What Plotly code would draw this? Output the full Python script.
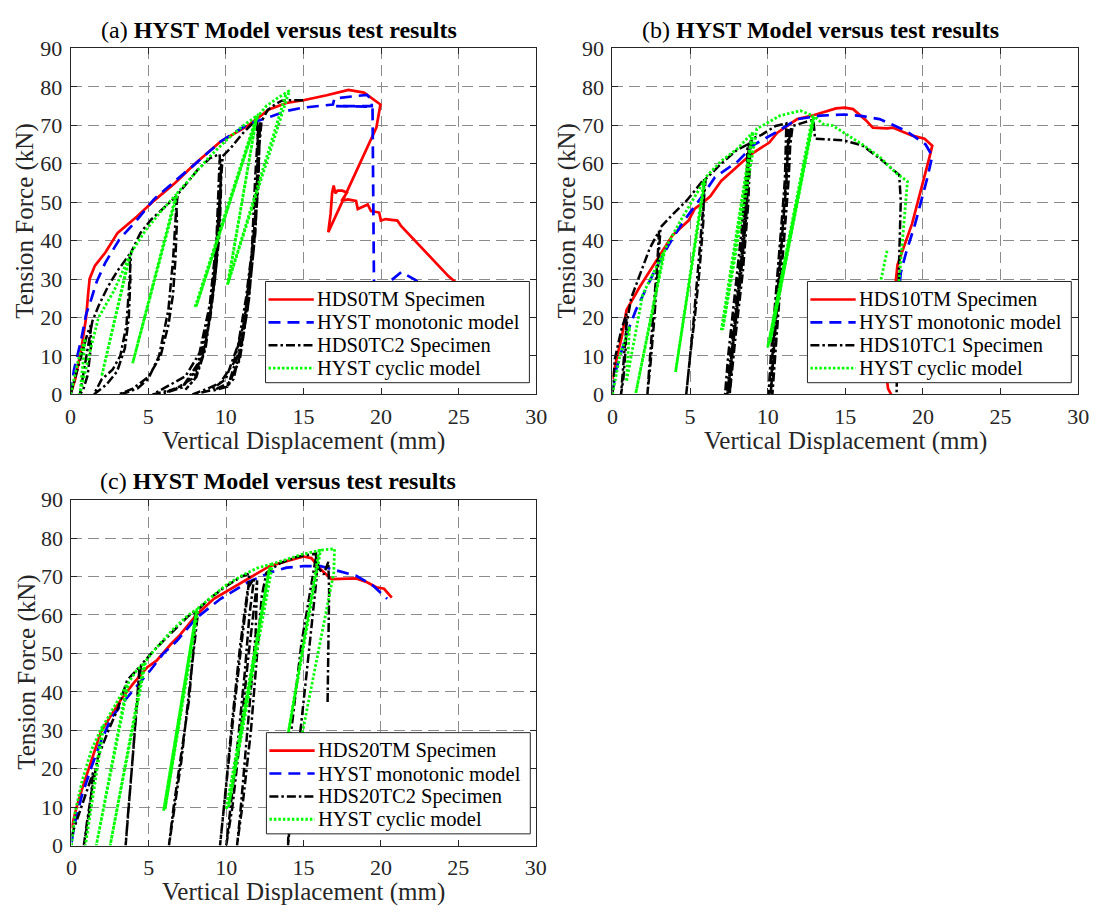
import plotly.graph_objects as go

W, H = 1102, 924

# ---------------- Panel (a) ----------------
a_tm_x = [0, 0.3, 0.7, 1.0, 1.15, 1.23, 1.57, 2.24, 3.03, 4.26, 5.38, 6.73, 7.96, 9.64, 11.43, 12.78, 13.9, 15.0, 16.5,
          17.9, 18.9, 19.96, 19.7, 16.6, 16.75, 16.85, 16.95, 17.05, 17.2, 17.5, 17.8, 17.45, 17.86, 18.39, 18.5, 19.14,
          19.35, 19.88, 19.99, 20.3, 21.05, 21.27, 24.35, 25.0]
a_tm_y = [0, 4, 12, 20, 27, 30.1, 33.5, 36.9, 42, 46.2, 50.4, 55, 59.8, 65.7, 69.9, 74.1, 75.8, 76.5, 77.8,
          79.2, 78.5, 75.4, 69.4, 42.2, 47, 52.5, 54.3, 52.3, 53, 53, 52.5, 50.3, 50.7, 50.3, 48.2, 49.4,
          47.7, 47.3, 45.2, 45.6, 45.2, 43.9, 30.7, 28.5]

a_mono_x = [0, 0.22, 0.67, 1.0, 1.35, 1.68, 2.24, 3.14, 4.26, 5.38, 6.73, 7.96, 9.64, 11.43, 13.0, 13.9, 15.0, 16.9,
            17.0, 19.1, 19.4, 19.4, 17.1, 19.45, 19.5, 19.55, 21.3, 22.2, 25.0]
a_mono_y = [0, 6.4, 14, 20.8, 25, 29.3, 34.3, 40.3, 45.3, 50.8, 55.5, 59.7, 65.7, 70.3, 72.4, 73.7, 74.6, 75.4,
            77, 77.9, 76.5, 75.0, 75.0, 74.8, 50, 26, 31.8, 29.8, 20]

a_tc_x = [0, 0.4, 0.8, 1.1, 1.3, 1.3, 1.1, 0.8, 0.6, 0.8, 1.1, 1.4, 1.8, 2.4, 3.0, 3.5, 3.8,
          3.85, 3.75, 3.5, 3.0, 2.3, 1.7, 1.5, 2.0, 2.7, 3.2, 3.6, 3.8, 3.9,
          4.5, 5.2, 6.0, 6.8, 6.85, 6.75, 6.6, 6.3, 5.8, 5.0, 4.0, 3.1,
          3.6, 4.3, 5.0, 5.7, 6.3, 6.6, 6.8, 6.9, 7.5, 8.2, 9.0, 9.6,
          9.7, 9.6, 9.3, 9.0, 8.5, 7.8, 6.8, 5.3, 6.28, 7.4, 8.3, 8.97, 9.4, 9.6,
          9.5, 9.2, 8.8, 8.2, 7.3, 6.0, 7.2, 8.2, 8.9, 9.3, 9.55, 9.7,
          9.6, 9.35, 9.0, 8.6, 8.0, 7.4, 8.1, 8.7, 9.15, 9.45, 9.65, 9.8,
          10.3, 11.0, 11.6, 12.0, 12.1, 12.0, 11.7, 11.3, 10.8, 10.0, 9.0, 7.85,
          8.74, 9.64, 10.5, 11.2, 11.66, 11.9, 12.1,
          12.0, 11.8, 11.4, 10.9, 10.2, 9.2, 10.1, 10.8, 11.4, 11.8, 12.1, 12.2,
          12.1, 11.9, 11.5, 11.0, 10.5, 10.1, 10.9, 11.5, 11.9, 12.1, 12.3,
          12.7, 13.2, 13.6, 14.0, 15.0]
a_tc_y = [0, 6, 12, 16, 18, 12, 5, 1, 0, 5, 12, 19, 23, 28, 32, 35, 36.5,
          30, 20, 12, 6, 2.5, 0.6, 0, 3.9, 6.4, 10, 18, 30, 37,
          42, 45.5, 48.5, 51.5, 45, 35, 26, 18, 10, 4.5, 1.5, 0,
          0.5, 1.5, 4, 10, 22, 35, 48, 52, 55, 58.5, 61.5, 62.5,
          55, 42, 30, 20, 10, 4, 1.5, 0, 2.2, 4.7, 10.7, 23.4, 40.3, 61,
          45, 30, 18, 8, 2.5, 0.3, 1.8, 7, 18, 32, 48, 60,
          46, 32, 21, 11, 4, 1.2, 4.5, 12, 26, 42, 55, 62,
          64, 67.5, 70, 71.5, 62, 50, 38, 25, 13, 4, 1, 0,
          1.35, 3.0, 8.1, 19.1, 36, 57, 70,
          55, 40, 25, 12, 3, 1, 2, 8, 22, 38, 55, 71,
          58, 42, 26, 13, 4, 2.2, 9, 25, 45, 62, 71,
          74, 75.5, 76.4, 76.5, 76.5]

a_cyc_x = [0, 0.5, 0.95, 0.6, 1.3, 1.8, 2.8, 3.75, 2.0, 3.85, 4.8, 5.8, 6.8, 4.0, 6.9, 8.0, 9.0, 10.0, 11.0,
           12.0, 8.0, 12.1, 8.1, 12.0, 12.6, 13.3, 14.1, 10.1, 12.0, 10.15, 13.9]
a_cyc_y = [0, 9, 14.5, 0, 12, 20, 27, 35.5, 4.7, 36.5, 42.5, 47.5, 52, 8.1, 52.5, 57.5, 62, 66, 69.5,
           72.5, 22.5, 73, 23, 72, 75, 77, 79, 28.4, 72.5, 29, 78.5]

# ---------------- Panel (b) ----------------
b_tm_x = [0, 0.3, 0.6, 0.9, 1.73, 2.8, 3.85, 4.9, 5.3, 5.7, 6.3, 7.0, 8.1, 8.9, 10.1, 10.6, 11.9, 12.94, 14.4, 14.96,
          15.5, 16.3, 16.77, 17.7, 18.04, 19.32, 20.1, 20.6, 20.4, 19.3, 18.36, 18.0, 17.8, 17.7, 17.75, 17.95]
b_tm_y = [4, 10, 15, 21.9, 27.8, 34.5, 41.3, 45.2, 48.3, 49.5, 51.5, 55.5, 59.5, 62.4, 65.5, 68, 71.6, 72.6, 74.4, 74.6,
          74.2, 71.4, 69.4, 69.2, 69.4, 67.3, 66.5, 64.7, 61.4, 44.4, 33.7, 20, 8, 3.2, 1.5, 0]

b_mono_x = [0, 0.25, 0.9, 1.5, 2.8, 3.6, 4.5, 5.75, 6.6, 8.1, 9.1, 10.6, 11.9, 13.4, 14.96, 16.1, 17.2, 18.9, 20.17,
            20.6, 20.28, 19.5, 18.9, 18.57, 18.3]
b_mono_y = [0.8, 6.7, 15.5, 21.9, 32.8, 38.7, 44.6, 51.4, 56.5, 60.7, 64.9, 68.3, 71.6, 72.5, 72.8, 72.4, 71.6, 68.6, 65,
            62, 56.3, 44.4, 36.7, 31.6, 20]

b_tc_x = [0, 0.15, 0.57, 0.9, 0.85, 0.7, 0.55, 0.7, 0.9, 1.2, 1.75, 2.4, 3.0,
          2.9, 2.7, 2.5, 2.35, 2.25, 2.45, 2.7, 2.95, 3.1, 3.8, 4.8, 5.9,
          5.85, 5.6, 5.3, 5.0, 4.8, 4.75, 4.9, 5.2, 5.5, 5.8, 6.0, 7.0, 8.0, 8.7,
          8.6, 8.3, 7.9, 7.6, 7.4, 7.6, 8.0, 8.4, 8.7, 8.8,
          8.65, 8.25, 7.8, 7.5, 7.25, 7.45, 7.85, 8.3, 8.65, 8.9,
          8.75, 8.4, 7.95, 7.65, 7.55, 7.75, 8.15, 8.55, 8.8, 9.0,
          9.6, 10.5, 11.2, 11.1, 10.8, 10.5, 10.2, 10.05, 10.25, 10.6, 10.9, 11.2, 11.35,
          11.2, 10.9, 10.6, 10.3, 10.2, 10.4, 10.75, 11.05, 11.3, 11.5,
          11.35, 11.05, 10.7, 10.4, 10.3, 10.5, 10.85, 11.15, 11.4, 11.6,
          12.3, 12.94, 13.05, 14.85, 16.07, 17.2, 18.47, 18.57, 18.43, 18.3]
b_tc_y = [0, 9.2, 16.8, 21, 12, 4, 0, 8, 18, 25, 31, 38, 42.5,
          35, 25, 15, 6, 0, 8, 20, 35, 43.5, 46.5, 50.5, 56,
          45, 32, 20, 10, 3, 0, 6, 18, 32, 45, 56, 60, 63.5, 65,
          50, 35, 20, 8, 0, 10, 25, 42, 60, 65.5,
          48, 30, 14, 3, 0, 10, 25, 42, 58, 66,
          50, 32, 16, 4, 0, 12, 28, 46, 62, 66.5,
          67.5, 69.8, 70.5, 55, 40, 25, 10, 0, 10, 28, 45, 62, 69,
          55, 40, 25, 10, 0, 12, 30, 48, 64, 69.5,
          56, 40, 24, 9, 0, 11, 29, 47, 63, 69.8,
          70.7, 71.4, 66.5, 66.1, 64.8, 61.4, 57.1, 50.3, 29.9, 0]

b_cyc_x = [0, 0.47, 1.1, 0.9, 1.95, 2.8, 3.3, 1.5, 3.4, 4.5, 5.9, 4.06, 6.0, 7.0, 8.1, 9.0,
           7.0, 9.05, 7.1, 9.3, 10.8, 12.1, 12.9, 10.0, 12.95, 10.15, 13.0,
           13.58, 14.2, 15.2, 16.1, 17.2, 18.26, 19.0, 18.47, 18.3, 17.0, 17.3, 17.7]
b_cyc_y = [0, 10, 17.6, 3.3, 26, 33, 37, 0.3, 38, 46, 55.5, 5.8, 56.5, 60.7, 64.1, 68,
           16.4, 68.3, 16.8, 69.1, 72.5, 73.8, 72.5, 12.2, 72, 13.5, 72.3,
           70.3, 69.9, 67.3, 65, 61.8, 57.6, 55.4, 29.9, 15, 10, 29.9, 37.6]

# ---------------- Panel (c) ----------------
c_tm_x = [0, 0.3, 0.65, 1.28, 1.9, 2.55, 3.2, 4.0, 4.9, 5.5, 6.4, 6.95, 8.07, 9.2, 10.3, 11.4, 12.8, 13.9, 15.0, 15.5,
          16.1, 16.8, 17.7, 18.4, 19.1, 19.7, 20.2, 20.6, 20.7]
c_tm_y = [4.5, 9.5, 14.3, 21.9, 29.5, 33.8, 38, 42.2, 46.4, 48.1, 52.3, 54.5, 60, 64.2, 66.8, 69.3, 72.7, 74, 75.2, 74.8,
          71.9, 69.3, 69.5, 69.5, 68.5, 67.2, 66.8, 65.1, 64.5]

c_mono_x = [0, 0.22, 0.65, 1.28, 1.9, 2.55, 3.3, 4.0, 5.1, 5.9, 6.8, 8.07, 9.64, 11.4, 12.8, 13.9, 15.0, 16.1, 17.3,
            18.4, 19.5, 20.4]
c_mono_y = [0.8, 5.9, 12.7, 20.3, 27, 33, 37.1, 40.5, 45.6, 49.8, 53.2, 59.2, 64.2, 68.5, 71, 72.3, 72.7, 72.7, 71.4,
            70.2, 67.6, 64.2]

c_tc_x = [0, 0.43, 1.07, 1.4, 1.2, 0.95, 0.8, 1.0, 1.3, 1.7, 2.34, 2.98, 3.6, 4.4,
          4.2, 3.9, 3.65, 3.5, 3.7, 4.0, 4.3, 4.5, 5.5, 6.5, 7.5, 8.0,
          7.9, 7.6, 7.1, 6.6, 6.3, 6.6, 7.1, 7.6, 8.0, 8.2, 9.0, 10.0, 11.0, 11.5,
          11.4, 11.0, 10.5, 10.0, 9.6, 9.9, 10.4, 10.9, 11.4, 11.8,
          11.5, 11.2, 10.7, 10.2, 10.0, 10.4, 10.9, 11.4, 11.8, 12.0,
          11.9, 11.6, 11.2, 10.9, 10.7, 11.1, 11.6, 12.0, 12.3, 12.6,
          13.5, 14.5, 15.5, 15.8, 15.85, 15.6, 15.2, 14.8, 14.3, 14.0,
          14.1, 14.85, 15.5, 15.8, 16.0, 16.3, 16.6, 16.65, 16.55]
c_tc_y = [2.5, 7.6, 15.2, 19, 10, 3, 0, 6, 14, 22.8, 29.5, 35.4, 43, 46.5,
          35, 20, 8, 0, 10, 25, 40, 47, 51.5, 55.5, 59.5, 61,
          52, 38, 24, 10, 0, 8, 22, 40, 55, 61.5, 64.5, 67.5, 70, 70.8,
          66, 53, 35, 15, 0, 12, 33, 52, 67, 69.5,
          60, 45, 25, 8, 0, 10, 28, 48, 62, 69,
          55, 40, 22, 8, 0, 12, 30, 50, 65, 71,
          73.5, 75, 75.8, 76, 70, 60, 45, 30, 15, 0,
          26.2, 52.3, 67.5, 75.1, 72, 70.5, 73.8, 66, 37]

c_cyc_x = [0, 0.25, 0.7, 1.3, 2.0, 0.9, 2.1, 2.8, 3.6, 1.6, 3.7, 4.2, 4.7, 2.5, 4.8, 5.5, 6.5, 7.5, 8.1,
           5.95, 8.1, 6.05, 8.2, 9.0, 10.0, 11.0, 12.0, 12.9, 10.0, 12.8, 10.15, 13.0,
           14.0, 15.0, 16.1, 13.9, 13.7, 16.0, 17.0, 16.95, 14.85, 14.6]
c_cyc_y = [0, 9, 17, 25, 31, 0, 31.5, 36.5, 42, 0, 42.5, 45.5, 47.5, 0, 48, 51.5, 56, 59.8, 61.5,
           9, 61.5, 9.5, 61.8, 64.5, 67.8, 70.2, 72.2, 73.2, 9.3, 72.3, 10, 73.3,
           74.7, 75.9, 76.8, 27, 22, 76.8, 77.2, 71, 27.8, 20]

# ---------------- labels ----------------
panel_titles = ["(a) ", "(b) ", "(c) "]
title_bold = "HYST Model versus test results"
legend_names = [
    ["HDS0TM Specimen", "HYST monotonic model", "HDS0TC2 Specimen", "HYST cyclic model"],
    ["HDS10TM Specimen", "HYST monotonic model", "HDS10TC1 Specimen", "HYST cyclic model"],
    ["HDS20TM Specimen", "HYST monotonic model", "HDS20TC2 Specimen", "HYST cyclic model"],
]
x_title = "Vertical Displacement (mm)"
y_title = "Tension Force (kN)"
x_ticks = [0, 5, 10, 15, 20, 25, 30]
y_ticks = [0, 10, 20, 30, 40, 50, 60, 70, 80, 90]

series = [
    [(a_tm_x, a_tm_y), (a_mono_x, a_mono_y), (a_tc_x, a_tc_y), (a_cyc_x, a_cyc_y)],
    [(b_tm_x, b_tm_y), (b_mono_x, b_mono_y), (b_tc_x, b_tc_y), (b_cyc_x, b_cyc_y)],
    [(c_tm_x, c_tm_y), (c_mono_x, c_mono_y), (c_tc_x, c_tc_y), (c_cyc_x, c_cyc_y)],
]

styles = [
    dict(color="#ff0000", width=2.7, dash="solid"),
    dict(color="#0000ff", width=2.7, dash="12px,7px"),
    dict(color="#000000", width=2.5, dash="9px,3px,2.5px,3px"),
    dict(color="#00ff00", width=2.8, dash="2.5px,2px"),
]

# pixel geometry of the panels: (left, right, top, bottom)
boxes = [(65.6, 538.6, 37.4, 393.0), (616.0, 1089.0, 37.4, 393.0), (66.5, 538.0, 501.2, 856.7)]
title_pos = [(277, 19), (827, 19), (276, 482)]

FONT = "Liberation Serif"
INK = "#262626"

fig = go.Figure()
for p in range(3):
    xa = "x" if p == 0 else f"x{p+1}"
    ya = "y" if p == 0 else f"y{p+1}"
    for s in range(4):
        xs, ys = series[p][s]
        fig.add_trace(go.Scatter(
            x=xs, y=ys, mode="lines", name=legend_names[p][s],
            line=styles[s], xaxis=xa, yaxis=ya,
            showlegend=False, hoverinfo="skip"))

axis_common = dict(
    showline=True, linecolor=INK, linewidth=1, mirror="ticks",
    ticks="inside", ticklen=6, tickwidth=1, tickcolor=INK,
    showgrid=True, gridcolor="#8c8c8c", gridwidth=1, griddash="11px,6px",
    zeroline=False, tickfont=dict(family=FONT, size=22, color=INK),
    fixedrange=True,
)

layout = dict(
    width=W, height=H, margin=dict(l=0, r=0, t=0, b=0),
    paper_bgcolor="white", plot_bgcolor="white",
    font=dict(family=FONT, color=INK),
    annotations=[], shapes=[], showlegend=False,
)

LEG_W, LEG_H, ROW = 268, 104, 23.5
for p, (l, r, t, b) in enumerate(boxes):
    sfx = "" if p == 0 else str(p + 1)
    layout["xaxis" + sfx] = dict(axis_common, domain=[l / W, r / W], range=[0, 30],
                                 tickmode="array", tickvals=x_ticks, anchor="y" + sfx,
                                 ticklabelstandoff=2)
    layout["yaxis" + sfx] = dict(axis_common, domain=[1 - b / H, 1 - t / H], range=[0, 90],
                                 tickmode="array", tickvals=y_ticks, anchor="x" + sfx,
                                 ticklabelstandoff=3)
    # titles
    tx, ty = title_pos[p]
    layout["annotations"].append(dict(
        text=panel_titles[p] + "<b>" + title_bold + "</b>", x=tx / W, y=1 - ty / H,
        xref="paper", yref="paper", xanchor="center", yanchor="middle", showarrow=False,
        font=dict(family=FONT, size=24, color="#000000")))
    layout["annotations"].append(dict(
        text=x_title, x=(l + r) / 2 / W, y=1 - (b + 48) / H,
        xref="paper", yref="paper", xanchor="center", yanchor="middle", showarrow=False,
        font=dict(family=FONT, size=25, color=INK)))
    layout["annotations"].append(dict(
        text=y_title, x=(l - 46) / W, y=1 - (t + b) / 2 / H, textangle=-90,
        xref="paper", yref="paper", xanchor="center", yanchor="middle", showarrow=False,
        font=dict(family=FONT, size=25, color=INK)))
    # legend box (drawn above the traces, like the original)
    lx0 = l + 198
    ly0 = b - 116
    layout["shapes"].append(dict(
        type="rect", xref="paper", yref="paper", layer="above",
        x0=lx0 / W, x1=(lx0 + LEG_W) / W, y0=1 - (ly0 + LEG_H) / H, y1=1 - ly0 / H,
        line=dict(color=INK, width=1), fillcolor="white"))
    for s in range(4):
        ry = ly0 + 18.5 + s * ROW
        layout["shapes"].append(dict(
            type="line", xref="paper", yref="paper", layer="above",
            x0=(lx0 + 3) / W, x1=(lx0 + 49) / W, y0=1 - ry / H, y1=1 - ry / H,
            line=styles[s]))
        layout["annotations"].append(dict(
            text=legend_names[p][s], x=(lx0 + 50) / W, y=1 - ry / H,
            xref="paper", yref="paper", xanchor="left", yanchor="middle", showarrow=False,
            font=dict(family=FONT, size=20.5, color="#000000")))

fig.update_layout(**layout)
fig.write_html("out.html", post_script="document.body.style.margin='0px';")
